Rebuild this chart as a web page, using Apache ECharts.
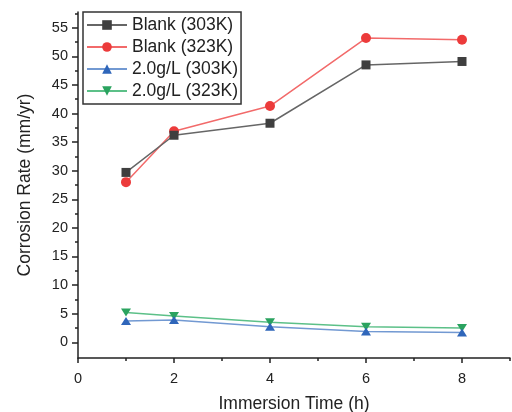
<!DOCTYPE html>
<html><head><meta charset="utf-8">
<script src="https://cdn.jsdelivr.net/npm/echarts@6/dist/echarts.min.js"></script>
<style>html,body{margin:0;padding:0;background:#fff}#c{width:512px;height:412px}</style>
</head><body><div id="c"></div>
<script>
const times = [1, 2, 4, 6, 8];
const blank303 = [29.7, 36.2, 38.3, 48.5, 49.1];
const blank323 = [28.0, 36.9, 41.3, 53.2, 52.9];
const inh303 = [3.7, 3.9, 2.7, 1.9, 1.7];
const inh323 = [5.2, 4.6, 3.5, 2.7, 2.5];
const seriesNames = ['Blank (303K)', 'Blank (323K)', '2.0g/L (303K)', '2.0g/L (323K)'];
const yMajor = [0, 5, 10, 15, 20, 25, 30, 35, 40, 45, 50, 55];
const yMinor = [2.5, 7.5, 12.5, 17.5, 22.5, 27.5, 32.5, 37.5, 42.5, 47.5, 52.5, 57.5];
const xMajor = [0, 2, 4, 6, 8];
const xMinor = [1, 3, 5, 7, 9];

const font = "'Liberation Sans', Arial, sans-serif";
const pair = (xs, ys) => xs.map((x, i) => [x, ys[i]]);
const axisLineStyle = { color: '#222', width: 1.5 };

const chart = echarts.init(document.getElementById('c'), null, { renderer: 'canvas' });
chart.setOption({
  animation: false,
  backgroundColor: '#fff',
  grid: { left: 78, right: 2, top: 12, bottom: 54, outerBoundsMode: 'none', containLabel: false },
  legend: {
    orient: 'vertical', left: 83, top: 12,
    padding: [4, 3, 4, 3], itemGap: 4, itemWidth: 40, itemHeight: 12,
    borderColor: '#333', borderWidth: 1.5,
    textStyle: { fontFamily: font, fontSize: 17.5, color: '#222' },
    data: seriesNames
  },
  xAxis: [{
    type: 'value', min: 0, max: 9,
    name: 'Immersion Time (h)', nameLocation: 'middle', nameGap: 37,
    nameTextStyle: { fontFamily: font, fontSize: 17.5, color: '#222' },
    axisLine: { onZero: false, lineStyle: axisLineStyle },
    axisTick: { customValues: xMajor, length: 5, lineStyle: axisLineStyle },
    axisLabel: { customValues: xMajor, fontFamily: font, fontSize: 14.5, color: '#222', margin: 13 },
    splitLine: { show: false }
  }, {
    type: 'value', min: 0, max: 9, position: 'bottom',
    axisLine: { show: false, onZero: false },
    axisTick: { customValues: xMinor, length: 3, lineStyle: axisLineStyle },
    axisLabel: { show: false },
    splitLine: { show: false }
  }],
  yAxis: [{
    type: 'value', min: -2.75, max: 57.75,
    name: 'Corrosion Rate (mm/yr)', nameLocation: 'middle', nameGap: 44,
    nameTextStyle: { fontFamily: font, fontSize: 17.5, color: '#222' },
    axisLine: { show: true, onZero: false, lineStyle: axisLineStyle },
    axisTick: { show: true, customValues: yMajor, length: 6, lineStyle: axisLineStyle },
    axisLabel: { customValues: yMajor, fontFamily: font, fontSize: 14.5, color: '#222', margin: 10 },
    splitLine: { show: false }
  }, {
    type: 'value', min: -2.75, max: 57.75, position: 'left',
    axisLine: { show: false, onZero: false },
    axisTick: { show: true, customValues: yMinor, length: 3, lineStyle: axisLineStyle },
    axisLabel: { show: false },
    splitLine: { show: false }
  }],
  series: [{
    name: seriesNames[0], type: 'line', data: pair(times, blank303),
    symbol: 'rect', symbolSize: 9,
    itemStyle: { color: '#3f3f3f' }, lineStyle: { color: '#666', width: 1.5 }, z: 3
  }, {
    name: seriesNames[1], type: 'line', data: pair(times, blank323),
    symbol: 'circle', symbolSize: 10,
    itemStyle: { color: '#ec3b3b' }, lineStyle: { color: '#f26a6a', width: 1.5 }, z: 2
  }, {
    name: seriesNames[2], type: 'line', data: pair(times, inh303),
    symbol: 'triangle', symbolSize: [10, 8],
    itemStyle: { color: '#2f66ba' }, lineStyle: { color: '#7299d2', width: 1.5 }, z: 3
  }, {
    name: seriesNames[3], type: 'line', data: pair(times, inh323),
    symbol: 'path://M0,0 L10,0 L5,8 Z', symbolSize: [10, 8],
    itemStyle: { color: '#2aa35f' }, lineStyle: { color: '#5cc088', width: 1.5 }, z: 2
  }]
});
</script></body></html>
